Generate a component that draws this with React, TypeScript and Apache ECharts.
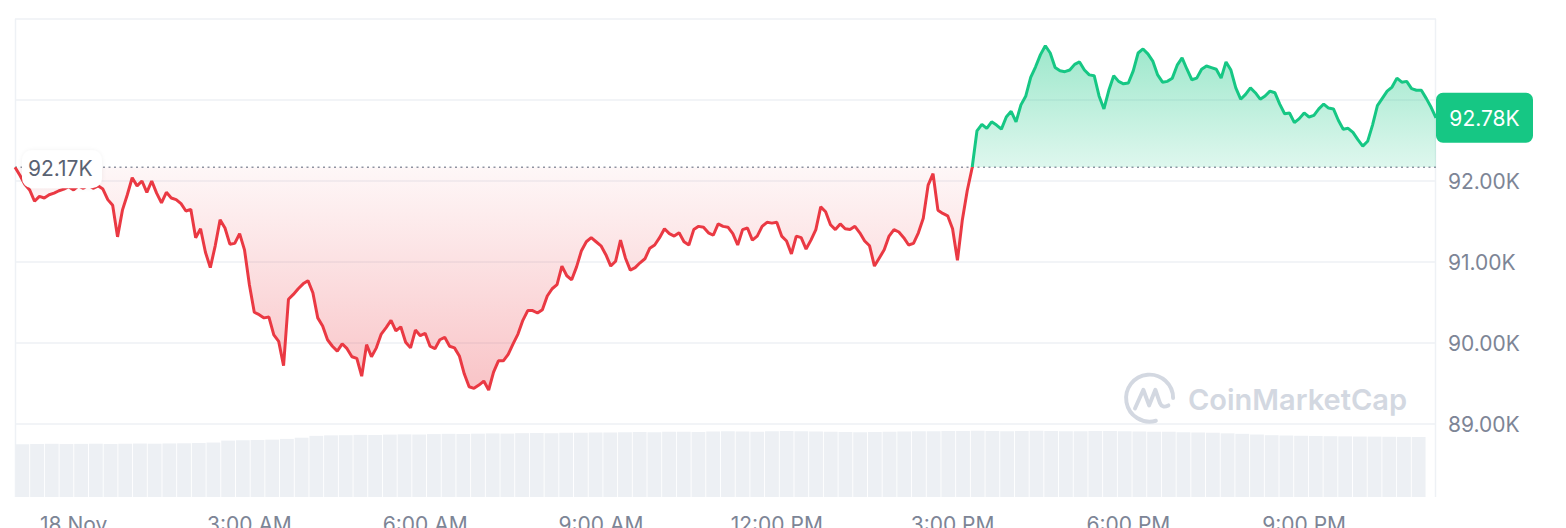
import React, { useEffect, useRef } from "react";
import * as echarts from "echarts";

// ---------- data ----------
const START_DATE = "2024-11-17";
const START_HOUR = 23; // first point 17 Nov 23:00
const STEP_MINUTES = 5;

const PRICE = [
  92170, 92070, 91960, 91890, 91750, 91810, 91790, 91830, 91850, 91880,
  91900, 91930, 91890, 91940, 91910, 91950, 91910, 91940, 91900, 91770,
  91700, 91310, 91640, 91830, 92040, 91940, 92000, 91860, 92000, 91850,
  91730, 91860, 91790, 91770, 91720, 91630, 91650, 91300, 91410, 91120,
  90930, 91200, 91520, 91420, 91220, 91230, 91350, 91150, 90720, 90380,
  90350, 90310, 90320, 90100, 90020, 89720, 90540, 90600, 90670, 90730,
  90770, 90620, 90310, 90210, 90040, 89960, 89900, 89990, 89930, 89830,
  89810, 89590, 89980, 89830, 89940, 90110, 90190, 90280, 90150, 90200,
  90010, 89940, 90160, 90090, 90120, 89960, 89930, 90040, 90070, 89960,
  89940, 89840, 89620, 89460, 89440, 89480, 89530, 89420, 89640, 89780,
  89780, 89860, 89990, 90110, 90280, 90400, 90400, 90370, 90410, 90580,
  90670, 90720, 90950, 90830, 90780, 90940, 91140, 91250, 91300, 91250,
  91200, 91090, 90950, 91010, 91270, 91050, 90900, 90930, 90990, 91040,
  91170, 91210, 91300, 91410, 91350, 91320, 91360, 91250, 91210, 91400,
  91440, 91430, 91360, 91330, 91470, 91440, 91430, 91350, 91210, 91400,
  91420, 91270, 91320, 91440, 91490, 91480, 91490, 91320, 91260, 91100,
  91320, 91300, 91160, 91270, 91400, 91680, 91620, 91460, 91400, 91470,
  91410, 91400, 91440, 91360, 91260, 91200, 90950, 91050, 91150, 91320,
  91400, 91370, 91300, 91210, 91230, 91360, 91540, 91950, 92090, 91640,
  91600, 91570, 91410, 91020, 91520, 91880, 92160, 92620, 92700, 92650,
  92730, 92690, 92640, 92790, 92860, 92730, 92940, 93050, 93280, 93410,
  93560, 93670, 93580, 93400, 93360, 93350, 93370, 93440, 93470, 93370,
  93310, 93300, 93050, 92890, 93120, 93300, 93230, 93200, 93210, 93360,
  93580, 93630, 93570, 93480, 93310, 93220, 93230, 93270, 93430, 93520,
  93380, 93250, 93270, 93380, 93420, 93400, 93380, 93270, 93470, 93370,
  93150, 93010, 93070, 93150, 93090, 93010, 93050, 93110, 93090, 92950,
  92830, 92840, 92720, 92770, 92840, 92790, 92810, 92890, 92950, 92900,
  92890, 92750, 92640, 92650, 92600, 92510, 92430, 92490, 92690, 92930,
  93020, 93110, 93160, 93270, 93220, 93230, 93140, 93120, 93120, 93020,
  92910, 92780,
];

const OPEN_PRICE = 92170;
const LAST_PRICE = 92780;

// 24h volume (billions USD), one bar per 15 minutes
const VOLUME_STEP_MINUTES = 15;
const VOLUME_B = [
  62.6, 62.8, 63.0, 62.7, 62.9, 63.1, 62.8, 63.0, 63.3, 63.1, 63.4, 63.6, 64.0, 64.5,
  66.8, 67.2, 67.5, 67.9, 68.8, 70.2,
  72.4, 73.0, 73.2, 73.6, 73.4, 73.9, 74.2, 74.0, 74.5, 74.8, 74.6, 75.0, 75.3, 75.1, 75.6, 75.8, 75.5, 76.0,
  76.2, 76.5, 76.3, 76.8, 77.0, 76.7, 77.2, 77.4, 77.1, 77.5, 77.8, 77.6, 77.3, 77.9, 78.1, 77.8, 77.5, 77.2, 77.0, 76.6, 76.9, 77.3, 77.6, 77.9, 78.0,
  78.3, 78.1, 78.4, 78.2, 77.9, 78.3, 78.5, 78.2, 78.0, 77.8, 78.1, 78.3, 78.0, 77.6, 77.4, 77.2, 76.8, 76.5, 76.0, 75.4, 74.8, 74.0,
  73.2, 72.8, 72.5, 72.3, 72.0, 71.8, 71.6, 71.5, 71.3, 71.2, 71.0,
];

const Y_MIN = 88000;
const Y_MAX = 94000;
const Y_INTERVAL = 1000;
// 88K / 94K are the frame edges; 93K sits under the last-price badge in the reference
const Y_HIDDEN_LABELS = [88000, 93000, 94000];

const X_TICK_LABELS: Record<string, string> = {
  "00:00": "18 Nov",
  "03:00": "3:00 AM",
  "06:00": "6:00 AM",
  "09:00": "9:00 AM",
  "12:00": "12:00 PM",
  "15:00": "3:00 PM",
  "18:00": "6:00 PM",
  "21:00": "9:00 PM",
};

// ---------- style ----------
const FONT = 'Inter, "Noto Sans", "DejaVu Sans", sans-serif';
const RED = "#EA3943";
const GREEN = "#16C784";
const LABEL = "#7d8596";
const GRIDLINE = "#eef1f5";
const VOL_COLOR = "#edf0f4";

const W = 1566;
const H = 528;
const GRID_LEFT = 15;
const GRID_RIGHT = 130;
const GRID_TOP = 19;
const GRID_BOTTOM = 23;
const VOL_TOP = 421;
const VOL_BOTTOM = 31;
const VOL_RIGHT = 140;

const LOGO_D =
  "M95 50 A45 45 0 1 0 62 93.4 M22 70 L38 34 L49 64 L61 34 L70 60 Q74 70 86 64";
let logoRegistered = false;
function ensureLogo() {
  if (logoRegistered) return;
  echarts.graphic.registerShape("cmcLogo", echarts.graphic.extendPath(LOGO_D, {}));
  logoRegistered = true;
}

function pad(n: number) {
  return n < 10 ? "0" + n : "" + n;
}
function buildTimes(count: number, stepMin: number) {
  const out: string[] = [];
  for (let i = 0; i < count; i++) {
    const total = START_HOUR * 60 + i * stepMin;
    const day = total >= 1440 ? "2024-11-18" : START_DATE;
    const m = total % 1440;
    out.push(day + " " + pad(Math.floor(m / 60)) + ":" + pad(m % 60));
  }
  return out;
}

const TIMES = buildTimes(PRICE.length, STEP_MINUTES);
const VOL_TIMES = buildTimes(VOLUME_B.length, VOLUME_STEP_MINUTES);

function xLabelFor(v: string) {
  if (v.indexOf("2024-11-18") !== 0) return "";
  return X_TICK_LABELS[v.slice(11)] || "";
}

function buildOption() {
  const pMax = Math.max(...PRICE);
  const pMin = Math.min(...PRICE);
  const baseOff = (pMax - OPEN_PRICE) / (pMax - pMin);
  const areaGradient = new echarts.graphic.LinearGradient(0, 0, 0, 1, [
    { offset: 0, color: "rgba(22,199,132,0.42)" },
    { offset: baseOff, color: "rgba(22,199,132,0.14)" },
    { offset: baseOff, color: "rgba(234,57,67,0.04)" },
    { offset: 1, color: "rgba(234,57,67,0.30)" },
  ]);

  const tickCount = (Y_MAX - Y_MIN) / Y_INTERVAL + 1;
  const splitColors: string[] = [];
  for (let i = 0; i < tickCount; i++) splitColors.push(i === 0 ? "rgba(0,0,0,0)" : GRIDLINE);

  return {
    animation: false,
    backgroundColor: "#ffffff",
    textStyle: { fontFamily: FONT },
    grid: [
      {
        left: GRID_LEFT,
        right: GRID_RIGHT,
        top: GRID_TOP,
        bottom: GRID_BOTTOM,
        containLabel: false,
        outerBoundsMode: "none",
      },
      {
        left: GRID_LEFT,
        right: VOL_RIGHT,
        top: VOL_TOP,
        bottom: VOL_BOTTOM,
        containLabel: false,
        outerBoundsMode: "none",
      },
    ],
    xAxis: [
      {
        type: "category",
        gridIndex: 0,
        data: TIMES,
        boundaryGap: false,
        axisLine: { show: false },
        axisTick: { show: false },
        splitLine: { show: false },
        axisLabel: {
          interval: 0,
          formatter: (v: string) => xLabelFor(v),
          color: LABEL,
          fontSize: 21,
          fontFamily: FONT,
          margin: 9,
        },
      },
      {
        type: "category",
        gridIndex: 1,
        data: VOL_TIMES,
        axisLine: { show: false },
        axisTick: { show: false },
        axisLabel: { show: false },
        splitLine: { show: false },
      },
    ],
    yAxis: [
      {
        type: "value",
        gridIndex: 0,
        position: "right",
        min: Y_MIN,
        max: Y_MAX,
        interval: Y_INTERVAL,
        axisLine: { show: false },
        axisTick: { show: false },
        axisLabel: {
          formatter: (v: number) =>
            Y_HIDDEN_LABELS.indexOf(v) >= 0 ? "" : (v / 1000).toFixed(2) + "K",
          color: LABEL,
          fontSize: 21,
          fontFamily: FONT,
          margin: 12,
        },
        splitLine: {
          show: true,
          lineStyle: { color: splitColors, width: 1.5 },
        },
      },
      {
        type: "value",
        gridIndex: 1,
        min: 0,
        max: 90,
        axisLine: { show: false },
        axisTick: { show: false },
        axisLabel: { show: false },
        splitLine: { show: false },
      },
    ],
    series: [
      {
        type: "line",
        name: "Price",
        xAxisIndex: 0,
        yAxisIndex: 0,
        data: PRICE,
        symbol: "none",
        smooth: false,
        z: 4,
        lineStyle: { width: 3, color: RED },
        areaStyle: { origin: OPEN_PRICE, color: areaGradient, opacity: 1 },
      },
      {
        type: "line",
        name: "Open",
        xAxisIndex: 0,
        yAxisIndex: 0,
        data: PRICE.map(() => OPEN_PRICE),
        symbol: "none",
        silent: true,
        z: 3,
        lineStyle: { color: "#8d95a3", type: [2, 3.5], width: 1.6 },
      },
      {
        type: "bar",
        name: "Volume",
        xAxisIndex: 1,
        yAxisIndex: 1,
        data: VOLUME_B,
        barCategoryGap: "6%",
        silent: true,
        z: 1,
        itemStyle: { color: VOL_COLOR },
      },
    ],
  };
}

export default function App() {
  const ref = useRef<HTMLDivElement>(null);

  useEffect(() => {
    if (!ref.current) return;
    ensureLogo();
    const chart = echarts.init(ref.current, null, { renderer: "svg" });
    chart.setOption(buildOption() as any);

    const p0 = chart.convertToPixel({ gridIndex: 0 }, [0, OPEN_PRICE]) as number[];
    const pL = chart.convertToPixel({ gridIndex: 0 }, [PRICE.length - 1, LAST_PRICE]) as number[];
    const rightX = W - GRID_RIGHT;
    const frameBottom = H - VOL_BOTTOM;
    const split = Math.min(1, Math.max(0, p0[1] / H));
    const lineGradient = new echarts.graphic.LinearGradient(
      0, 0, 0, H,
      [
        { offset: 0, color: GREEN },
        { offset: split, color: GREEN },
        { offset: split, color: RED },
        { offset: 1, color: RED },
      ],
      true
    );

    chart.setOption({
      series: [{ lineStyle: { width: 3, color: lineGradient } }],
      graphic: [
        {
          type: "line",
          z: 0,
          silent: true,
          shape: { x1: GRID_LEFT + 0.5, y1: GRID_TOP, x2: GRID_LEFT + 0.5, y2: frameBottom },
          style: { stroke: GRIDLINE, lineWidth: 1.5 },
        },
        {
          type: "line",
          z: 0,
          silent: true,
          shape: { x1: rightX - 0.5, y1: GRID_TOP, x2: rightX - 0.5, y2: frameBottom },
          style: { stroke: GRIDLINE, lineWidth: 1.5 },
        },
        {
          type: "cmcLogo",
          z: 1,
          silent: true,
          x: 1123.5,
          y: 372,
          scaleX: 0.522,
          scaleY: 0.522,
          style: { fill: "none", stroke: "#d3d8e1", lineWidth: 7.5, lineCap: "round", lineJoin: "round" },
        },
        {
          type: "text",
          z: 1,
          silent: true,
          x: 1188,
          y: 399,
          style: {
            text: "CoinMarketCap",
            fill: "#d3d8e1",
            font: "600 29px " + FONT,
            textAlign: "left",
            textVerticalAlign: "middle",
          },
        },
        {
          type: "group",
          z: 50,
          silent: true,
          children: [
            {
              type: "rect",
              z: 50,
              shape: { x: p0[0] + 7, y: p0[1] - 17, width: 80, height: 38, r: 10 },
              style: { fill: "#ffffff", shadowBlur: 4, shadowColor: "rgba(0,0,0,0.06)" },
            },
            {
              type: "text",
              z: 51,
              x: p0[0] + 13,
              y: p0[1] + 1,
              style: {
                text: (OPEN_PRICE / 1000).toFixed(2) + "K",
                fill: "#5a6272",
                font: "21px " + FONT,
                textAlign: "left",
                textVerticalAlign: "middle",
              },
            },
          ],
        },
        {
          type: "group",
          z: 50,
          silent: true,
          children: [
            {
              type: "rect",
              z: 50,
              shape: { x: pL[0], y: pL[1] - 25, width: 97, height: 50, r: 7 },
              style: { fill: GREEN },
            },
            {
              type: "text",
              z: 51,
              x: pL[0] + 48.5,
              y: pL[1] + 1,
              style: {
                text: (LAST_PRICE / 1000).toFixed(2) + "K",
                fill: "#ffffff",
                font: "21px " + FONT,
                textAlign: "center",
                textVerticalAlign: "middle",
              },
            },
          ],
        },
      ],
    } as any);

    return () => chart.dispose();
  }, []);

  return (
    <div
      ref={ref}
      style={{ position: "fixed", left: 0, top: 0, width: W, height: H, background: "#ffffff" }}
    />
  );
}
